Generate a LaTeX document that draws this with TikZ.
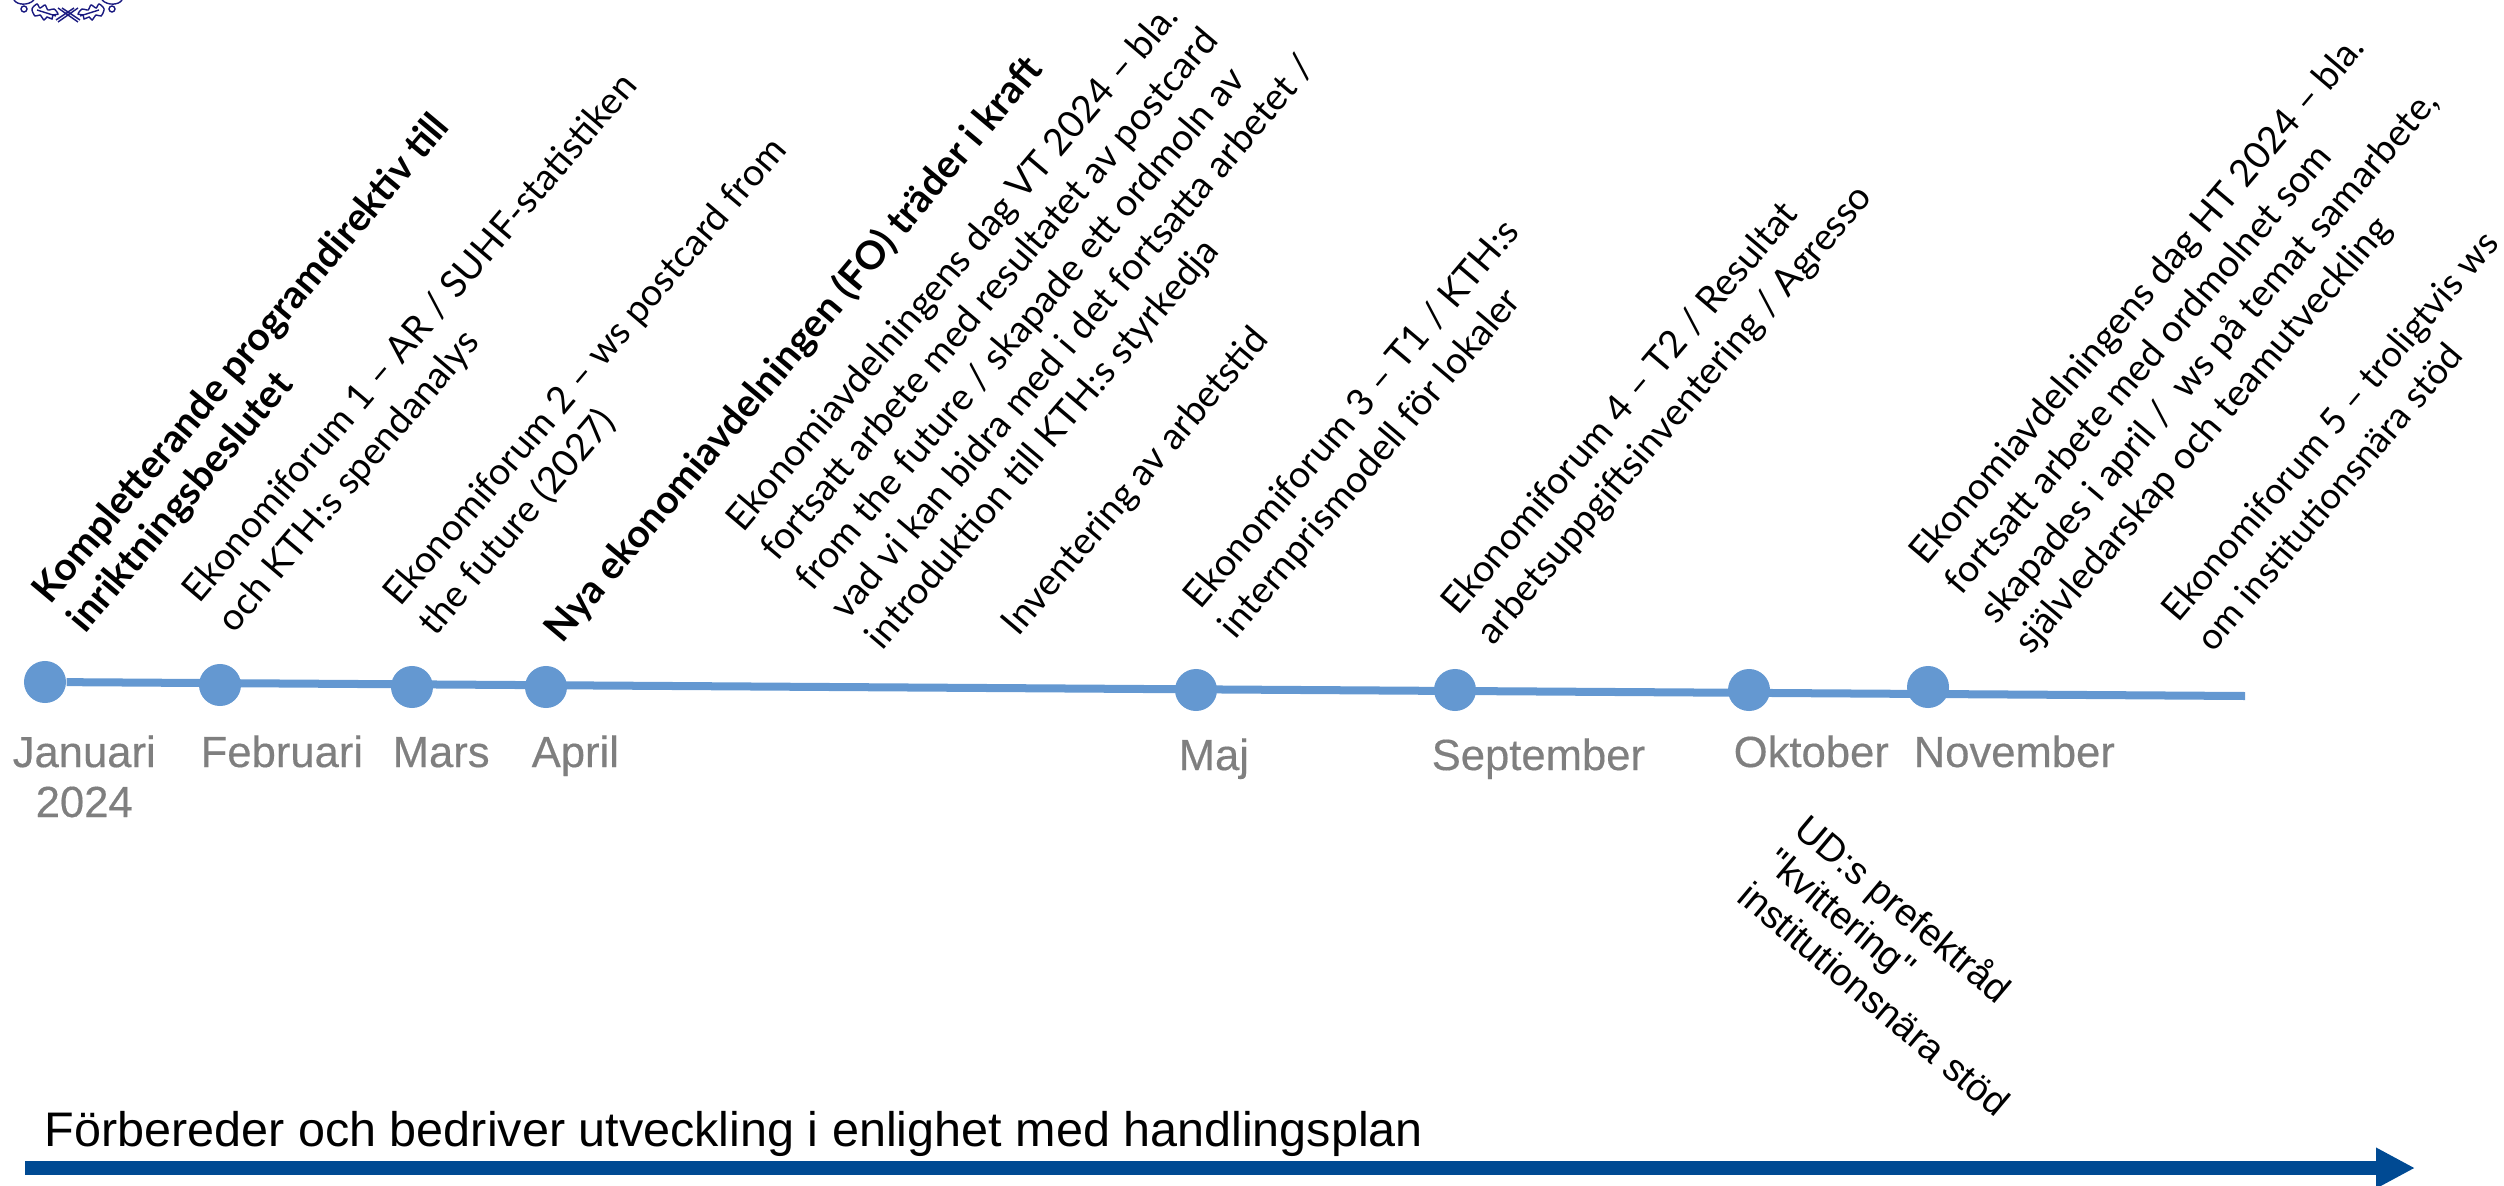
\documentclass[tikz,border=0pt]{standalone}
\usepackage{fontspec}
\setmainfont{Lato}
\newfontfamily\arialfont{Liberation Sans}
\newfontfamily\monthfont[FakeBold=0.35]{Liberation Sans}
\usetikzlibrary{arrows.meta}
\definecolor{tlblue}{HTML}{6498D1}
\definecolor{planblue}{HTML}{004A93}
\definecolor{monthgrey}{HTML}{7F7F7F}
\definecolor{crestblue}{HTML}{1A1A80}
\begin{document}
\begin{tikzpicture}[x=0.01cm,y=-0.01cm,
  event/.style ={anchor=base west,rotate=49.7,align=left,inner sep=0pt,font=\fontsize{10.65}{13}\selectfont},
  keyevent/.style ={anchor=base west,rotate=50,align=left,inner sep=0pt,font=\fontsize{11.1}{13}\selectfont\bfseries},
  month/.style ={anchor=base west,inner sep=0pt,text=monthgrey,font=\monthfont\fontsize{12.4}{14.2}\selectfont},
  dot/.style ={circle,fill=tlblue,inner sep=0pt,minimum size=0.42cm},
  response/.style ={anchor=base west,rotate=-40,align=left,inner sep=0pt,font=\arialfont\fontsize{10.85}{12.5}\selectfont},
  crest/.style ={crestblue,line width=0.4pt}
]
  \useasboundingbox (0,0) rectangle (2504,1185);

  % ----- crest, cut off by the top edge -----
  \def\crestleaf{plot[smooth cycle] coordinates {(32,9) (37,4) (40,8) (45,5) (48,10) (54,9) (58,14) (53,15) (52,19) (47,17) (44,20) (40,15) (35,16)}}
  \draw[crest] \crestleaf;
  \draw[crest,xshift=1.36cm,xscale=-1] \crestleaf;
  \draw[crest] (37,10) -- (56,16) (99,10) -- (80,16);
  \draw[crest] (58,8) -- (78,22) (62,8) -- (80,20) (78,8) -- (58,22) (74,8) -- (56,20);
  \draw[crest] (24,9) circle (0.03cm) (112,9) circle (0.03cm);
  \draw[crest] (14,0) .. controls (17,5) and (28,6) .. (34,0) (122,0) .. controls (119,5) and (108,6) .. (102,0);

  % ----- months on the time line -----
  \node[dot] (jan) at (45,682) {};
  \node[dot] (feb) at (220,685) {};
  \node[dot] (mar) at (412,687) {};
  \node[dot] (apr) at (546,687) {};
  \node[dot] (maj) at (1196,690) {};
  \node[dot] (sep) at (1455,690) {};
  \node[dot] (okt) at (1749,690) {};
  \node[dot] (nov) at (1928,687) {};
  \coordinate (tlend) at (2245,696);
  \draw[tlblue,line width=0.08cm] (jan) -- (tlend);

  \node[month,align=center] (janlabel) at (12,817) {Januari\\2024};
  \node[month] (feblabel) at (200,767) {Februari};
  \node[month] (marlabel) at (392,767) {Mars};
  \node[month] (aprlabel) at (531,767) {April};
  \node[month] (majlabel) at (1178,770) {Maj};
  \node[month] (seplabel) at (1431,770) {September};
  \node[month] (oktlabel) at (1733,767) {Oktober};
  \node[month] (novlabel) at (1913,767) {November};

  % ----- what happens each month -----
  \node[keyevent] (janevent) at (85,635) {Kompletterande programdirektiv till\\inriktningsbeslutet};
  \node[event] (forum1) at (234,635) {Ekonomiforum 1 – AR / SUHF-statistiken\\och KTH:s spendanalys};
  \node[event] (forum2) at (435,638) {Ekonomiforum 2 – ws postcard from\\the future (2027)};
  \node[keyevent] (aprevent) at (562,645) {Nya ekonomiavdelningen (FO) träder i kraft};
  \node[event] (vtday) at (882,652) {Ekonomiavdelningens dag VT 2024 – bla.\\fortsatt arbete med resultatet av postcard\\from the future / skapade ett ordmoln av\\vad vi kan bidra med i det fortsatta arbetet /\\introduktion till KTH:s styrkedja};
  \node[event] (worktime) at (1018,638) {Inventering av arbetstid};
  \node[event] (forum3) at (1235,641) {Ekonomiforum 3 – T1 / KTH:s\\internprismodell för lokaler};
  \node[event] (forum4) at (1493,647) {Ekonomiforum 4 – T2 / Resultat\\arbetsuppgiftsinventering / Agresso};
  \node[event] (htday) at (2031,656) {Ekonomiavdelningens dag HT 2024 – bla.\\fortsatt arbete med ordmolnet som\\skapades i april /\ \ ws på temat samarbete,\\självledarskap och teamutveckling};
  \node[event,font=\fontsize{10.35}{13}\selectfont] (forum5) at (2213,654) {Ekonomiforum 5 – troligtvis ws\\om institutionsnära stöd};

  \node[response] (udreply) at (1735,900) {UD:s prefektråd\\"kvittering"\\institutionsnära stöd};

  % ----- plan arrow along the bottom -----
  \node[anchor=base west,inner sep=0pt,font=\arialfont\fontsize{13.8}{15}\selectfont] (plan) at (44,1146) {Förbereder och bedriver utveckling i enlighet med handlingsplan};
  \coordinate (planstart) at (25,1168);
  \coordinate (planend) at (2415,1168);
  \draw[planblue,line width=0.135cm,-{Triangle[length=0.39cm,width=0.38cm]}] (planstart) -- (planend);
\end{tikzpicture}
\end{document}
